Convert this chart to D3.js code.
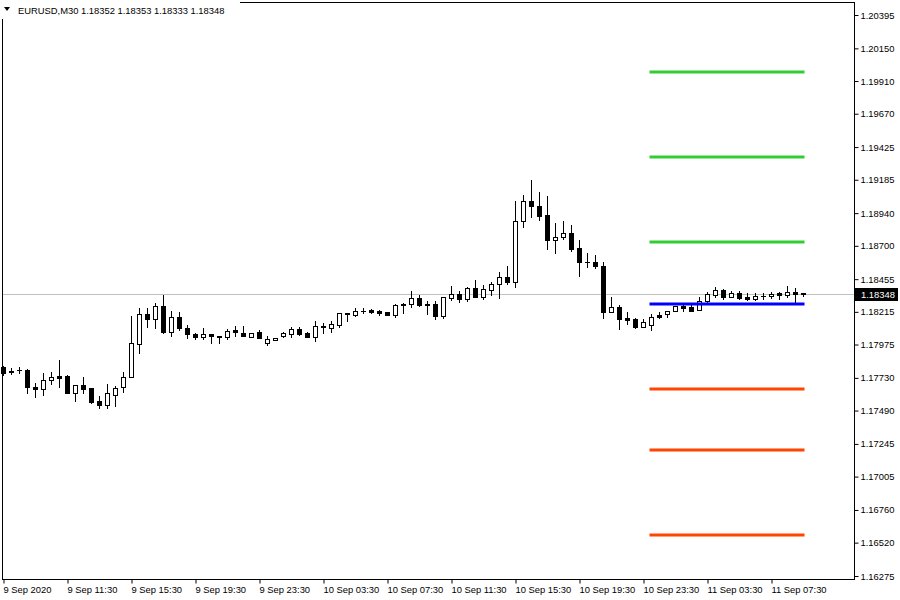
<!DOCTYPE html>
<html><head><meta charset="utf-8">
<script src="https://cdn.jsdelivr.net/npm/d3@7"></script>
<style>
body{margin:0;background:#fff}
svg text{font-family:"Liberation Sans",Arial,sans-serif;font-size:9.4px;fill:#000}
</style>
</head><body>
<svg id="chart" width="900" height="600"></svg>
<script>
const symbolLabel = "EURUSD,M30";
const lastQuote = [1.18352, 1.18353, 1.18333, 1.18348]; // O H L C of the live bar

const openP = [1.17810,1.17781,1.17788,1.17788,1.17663,1.17648,1.17714,1.17744,1.17744,1.17619,
1.17678,1.17656,1.17560,1.17531,1.17604,1.17663,1.17737,1.17979,1.18199,1.18162,
1.18258,1.18067,1.18177,1.18096,1.18052,1.18030,1.18052,1.18038,1.18030,1.18082,
1.18060,1.18030,1.18067,1.17986,1.18008,1.18038,1.18052,1.18089,1.18060,1.18030,
1.18111,1.18096,1.18118,1.18207,1.18192,1.18221,1.18229,1.18221,1.18214,1.18192,
1.18273,1.18273,1.18317,1.18273,1.18273,1.18185,1.18317,1.18346,1.18309,1.18390,
1.18324,1.18375,1.18420,1.18471,1.18434,1.18882,1.19029,1.18992,1.18926,1.18743,
1.18765,1.18794,1.18684,1.18581,1.18581,1.18552,1.18214,1.18251,1.18170,1.18162,
1.18104,1.18118,1.18192,1.18199,1.18221,1.18258,1.18251,1.18229,1.18295,1.18339,
1.18375,1.18324,1.18353,1.18324,1.18309,1.18331,1.18331,1.18353,1.18339,1.18361,
1.18352];
const highP = [1.17817,1.17803,1.17810,1.17795,1.17692,1.17766,1.17773,1.17861,1.17751,1.17678,
1.17737,1.17656,1.17597,1.17685,1.17670,1.17773,1.18185,1.18243,1.18243,1.18280,
1.18339,1.18221,1.18214,1.18118,1.18060,1.18096,1.18052,1.18038,1.18089,1.18111,
1.18111,1.18060,1.18082,1.18038,1.18023,1.18067,1.18104,1.18104,1.18067,1.18148,
1.18133,1.18148,1.18207,1.18207,1.18243,1.18243,1.18236,1.18229,1.18214,1.18273,
1.18280,1.18368,1.18339,1.18295,1.18295,1.18324,1.18405,1.18368,1.18397,1.18449,
1.18412,1.18434,1.18508,1.18552,1.19029,1.19073,1.19183,1.19095,1.19066,1.18868,
1.18882,1.18853,1.18743,1.18647,1.18633,1.18581,1.18324,1.18265,1.18214,1.18170,
1.18162,1.18199,1.18214,1.18221,1.18258,1.18265,1.18265,1.18324,1.18361,1.18397,
1.18383,1.18368,1.18368,1.18353,1.18353,1.18353,1.18361,1.18361,1.18405,1.18390,
1.18353];
const lowP = [1.17751,1.17759,1.17766,1.17619,1.17590,1.17604,1.17685,1.17663,1.17619,1.17560,
1.17619,1.17546,1.17509,1.17509,1.17524,1.17626,1.17737,1.17913,1.18104,1.18096,
1.18060,1.18038,1.18082,1.18023,1.18016,1.18016,1.17986,1.17986,1.18016,1.18038,
1.18038,1.18030,1.18023,1.17971,1.18008,1.18030,1.18030,1.18045,1.18030,1.18001,
1.18060,1.18067,1.18104,1.18148,1.18185,1.18207,1.18207,1.18192,1.18192,1.18177,
1.18207,1.18251,1.18258,1.18199,1.18162,1.18170,1.18302,1.18287,1.18295,1.18324,
1.18309,1.18339,1.18317,1.18420,1.18397,1.18838,1.18912,1.18890,1.18677,1.18647,
1.18750,1.18662,1.18478,1.18544,1.18537,1.18170,1.18214,1.18089,1.18126,1.18096,
1.18104,1.18082,1.18170,1.18177,1.18221,1.18221,1.18221,1.18229,1.18287,1.18324,
1.18309,1.18324,1.18309,1.18302,1.18302,1.18309,1.18317,1.18309,1.18324,1.18280,
1.18333];
const closeP = [1.17766,1.17773,1.17788,1.17663,1.17648,1.17714,1.17737,1.17729,1.17619,1.17678,
1.17648,1.17553,1.17531,1.17619,1.17656,1.17737,1.17986,1.18199,1.18162,1.18258,
1.18067,1.18177,1.18096,1.18052,1.18030,1.18052,1.18038,1.18030,1.18074,1.18067,
1.18038,1.18060,1.18023,1.18016,1.18023,1.18060,1.18089,1.18052,1.18030,1.18111,
1.18104,1.18126,1.18207,1.18199,1.18221,1.18221,1.18214,1.18207,1.18192,1.18265,
1.18265,1.18317,1.18265,1.18265,1.18185,1.18324,1.18346,1.18309,1.18390,1.18324,
1.18383,1.18420,1.18471,1.18434,1.18882,1.19029,1.18992,1.18919,1.18743,1.18765,
1.18794,1.18677,1.18581,1.18581,1.18552,1.18214,1.18251,1.18162,1.18155,1.18104,
1.18140,1.18177,1.18177,1.18221,1.18258,1.18243,1.18221,1.18295,1.18346,1.18375,
1.18324,1.18353,1.18317,1.18309,1.18331,1.18331,1.18346,1.18339,1.18361,1.18346,
1.18348];

const timeTickBars = [0,8,16,24,32,40,48,56,64,72,80,88,96];
const timeTickLabels = ["9 Sep 2020","9 Sep 11:30","9 Sep 15:30","9 Sep 19:30","9 Sep 23:30",
"10 Sep 03:30","10 Sep 07:30","10 Sep 11:30","10 Sep 15:30","10 Sep 19:30","10 Sep 23:30",
"11 Sep 03:30","11 Sep 07:30"];
const priceTicks = [1.20395,1.20150,1.19910,1.19670,1.19425,1.19185,1.18940,1.18700,1.18455,
1.18215,1.17975,1.17730,1.17490,1.17245,1.17005,1.16760,1.16520,1.16275];

const resistanceLevels = [1.19976,1.19352,1.18728];
const pivotLevels = [1.18273];
const supportLevels = [1.17648,1.17200,1.16576];
const levelBarFrom = 81, levelBarTo = 100;

const svg = d3.select("#chart");
const W = 900, H = 600;
const plot = {left:2.5, top:2.5, right:854.5, bottom:579.5};

const x = d3.scaleLinear().domain([0, openP.length - 1]).range([3, 803]);
const y = d3.scaleLinear().domain([priceTicks[priceTicks.length-1], priceTicks[0]]).range([576, 15]);

svg.append("rect").attr("width",W).attr("height",H).attr("fill","#fff");

// frame
svg.append("rect").attr("x",plot.left).attr("y",plot.top)
  .attr("width",plot.right-plot.left).attr("height",plot.bottom-plot.top)
  .attr("fill","none").attr("stroke","#000").attr("stroke-width",1);

// current price line
const lastClose = closeP[closeP.length-1];
const yLast = Math.round(y(lastClose)) + 0.5;
svg.append("line").attr("x1",plot.left+0.5).attr("x2",plot.right-0.5)
  .attr("y1",yLast).attr("y2",yLast).attr("stroke","#c0c0c0").attr("stroke-width",1);

// levels
function levels(vals, color){
  svg.append("g").selectAll("line").data(vals).join("line")
    .attr("x1", x(levelBarFrom)).attr("x2", x(levelBarTo))
    .attr("y1", d => Math.round(y(d))).attr("y2", d => Math.round(y(d)))
    .attr("stroke", color).attr("stroke-width", 3).attr("stroke-linecap","square");
}
levels(resistanceLevels, "#32CD32");
levels(supportLevels, "#FF4500");

// candles
const bars = d3.range(openP.length).map(i => ({i, o:openP[i], h:highP[i], l:lowP[i], c:closeP[i]}));
const g = svg.append("g");
bars.forEach(b => {
  const cx = Math.round(x(b.i));
  const yh = Math.round(y(b.h)), yl = Math.round(y(b.l));
  const yo = Math.round(y(b.o)), yc = Math.round(y(b.c));
  g.append("line").attr("x1",cx+0.5).attr("x2",cx+0.5).attr("y1",yh).attr("y2",yl+1)
    .attr("stroke","#000").attr("stroke-width",1);
  const top = Math.min(yo,yc), bot = Math.max(yo,yc);
  if (bot - top < 1) {
    g.append("line").attr("x1",cx-2).attr("x2",cx+3).attr("y1",top+0.5).attr("y2",top+0.5)
      .attr("stroke","#000").attr("stroke-width",1);
  } else {
    g.append("rect").attr("x",cx-1.5).attr("y",top+0.5).attr("width",4).attr("height",bot-top)
      .attr("fill", b.c > b.o ? "#fff" : "#000").attr("stroke","#000").attr("stroke-width",1);
  }
});

levels(pivotLevels, "#0000FF");

// right price axis
const yAxis = d3.axisRight(y).tickValues(priceTicks).tickSize(4).tickPadding(2)
  .tickFormat(d3.format(".5f"));
const ya = svg.append("g").attr("transform",`translate(${plot.right},0)`).call(yAxis);
ya.select(".domain").remove();
ya.selectAll(".tick line").attr("stroke","#000");
ya.selectAll(".tick text").attr("font-family",null).attr("font-size",null);

// bottom time axis
const xAxis = d3.axisBottom(x).tickValues(timeTickBars).tickSize(4).tickPadding(3)
  .tickFormat((d,k) => timeTickLabels[k]);
const xa = svg.append("g").attr("transform",`translate(0.5,${plot.bottom})`).call(xAxis);
xa.select(".domain").remove();
xa.selectAll(".tick line").attr("stroke","#000");
xa.selectAll(".tick text").attr("text-anchor","start").attr("x",-0.5)
  .attr("font-family",null).attr("font-size",null);

// current price label
svg.append("rect").attr("x",855).attr("y",yLast-6.5).attr("width",43).attr("height",13).attr("fill","#000");
svg.append("text").attr("x",861).attr("y",yLast).attr("dy","0.35em").style("fill","#fff")
  .text(d3.format(".5f")(lastClose));

// title
svg.append("rect").attr("x",0).attr("y",0).attr("width",240).attr("height",19).attr("fill","#fff");
svg.append("path").attr("d","M4,7L10,7L7,11Z").attr("fill","#000");
svg.append("text").attr("x",18).attr("y",14)
  .text(symbolLabel + "  " + lastQuote.map(d3.format(".5f")).join(" "));
</script>
</body></html>
